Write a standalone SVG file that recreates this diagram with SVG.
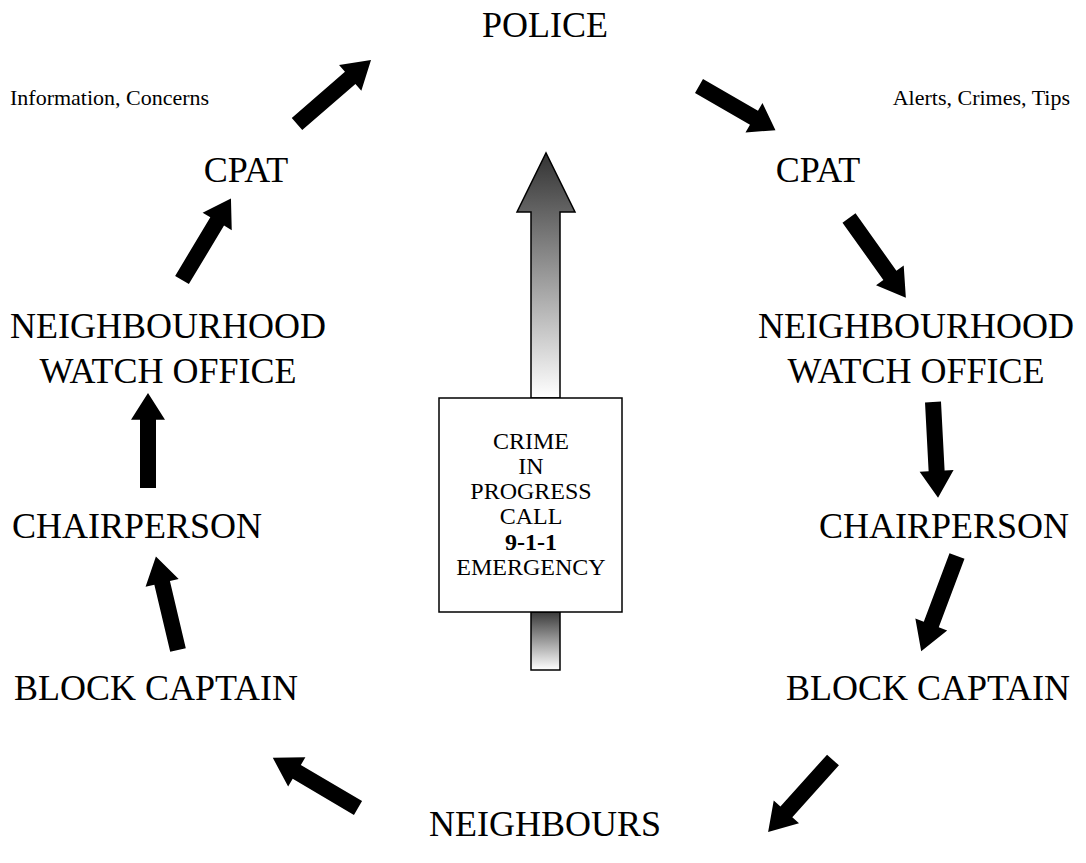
<svg xmlns="http://www.w3.org/2000/svg" xmlns:xlink="http://www.w3.org/1999/xlink" width="1086" height="863" viewBox="0 0 1086 863">
<style>
.lbl{font-family:"Liberation Serif","Times New Roman",serif;font-size:36px;fill:#000;text-anchor:middle}
.sm{font-family:"Liberation Serif","Times New Roman",serif;font-size:22px;fill:#000}
.bx{font-family:"Liberation Serif","Times New Roman",serif;font-size:24px;fill:#000;text-anchor:middle}
.arr{fill:#000}
</style>
<defs>
<path id="a" d="M0,-8 H69 V-17 L96,0 L69,17 V8 H0 Z"/>
<linearGradient id="g1" x1="0" y1="0" x2="0" y2="1">
<stop offset="0" stop-color="#333"/>
<stop offset="1" stop-color="#fff"/>
</linearGradient>
<linearGradient id="g2" x1="0" y1="0" x2="0" y2="1">
<stop offset="0" stop-color="#3a3a3a"/>
<stop offset="1" stop-color="#fff"/>
</linearGradient>
</defs>
<rect width="1086" height="863" fill="#fff"/>

<g id="police"><text class="lbl" x="545" y="37">POLICE</text></g>
<g id="info-label"><text class="sm" x="10" y="105">Information, Concerns</text></g>
<g id="alerts-label"><text class="sm" x="1070" y="105" text-anchor="end">Alerts, Crimes, Tips</text></g>
<g id="cpat-left"><text class="lbl" x="246" y="182">CPAT</text></g>
<g id="cpat-right"><text class="lbl" x="818" y="182">CPAT</text></g>
<g id="nwo-left"><text class="lbl" x="168" y="338">NEIGHBOURHOOD</text><text class="lbl" x="168" y="383">WATCH OFFICE</text></g>
<g id="nwo-right"><text class="lbl" x="916" y="338">NEIGHBOURHOOD</text><text class="lbl" x="916" y="383">WATCH OFFICE</text></g>
<g id="chair-left"><text class="lbl" x="137" y="538">CHAIRPERSON</text></g>
<g id="chair-right"><text class="lbl" x="944" y="538">CHAIRPERSON</text></g>
<g id="block-left"><text class="lbl" x="156" y="700">BLOCK CAPTAIN</text></g>
<g id="block-right"><text class="lbl" x="928" y="700">BLOCK CAPTAIN</text></g>
<g id="neighbours"><text class="lbl" x="545" y="836">NEIGHBOURS</text></g>

<g id="emergency">
<path d="M531,398 V212 H517 L546,153 L575,212 H560 V398 Z" fill="url(#g1)" stroke="#000" stroke-width="1.5"/>
<path d="M531,612 V670 H560 V612 Z" fill="url(#g2)" stroke="#000" stroke-width="1.5"/>
<rect x="439" y="398" width="183" height="214" fill="#fff" stroke="#000" stroke-width="1.5"/>
<text class="bx" x="531" y="449">CRIME</text>
<text class="bx" x="531" y="474">IN</text>
<text class="bx" x="531" y="499">PROGRESS</text>
<text class="bx" x="531" y="524">CALL</text>
<text class="bx" x="531" y="550" font-weight="bold" font-size="28">9-1-1</text>
<text class="bx" x="531" y="575">EMERGENCY</text>
</g>

<g id="connectors" class="arr">
<use xlink:href="#a" transform="translate(297,124) rotate(-40.9) scale(1.02,1)"/>
<use xlink:href="#a" transform="translate(699,86) rotate(30) scale(0.92,1)"/>
<use xlink:href="#a" transform="translate(182,280) rotate(-59) scale(0.99,1)"/>
<use xlink:href="#a" transform="translate(849,218) rotate(54.5) scale(1.02,1)"/>
<use xlink:href="#a" transform="translate(148,488) rotate(-90) scale(0.99,1)"/>
<use xlink:href="#a" transform="translate(933,402) rotate(87) scale(1,1)"/>
<use xlink:href="#a" transform="translate(178,650) rotate(-103.3) scale(1,1)"/>
<use xlink:href="#a" transform="translate(957,556) rotate(110.6) scale(1.06,1)"/>
<use xlink:href="#a" transform="translate(358,808) rotate(-149.5) scale(1.03,1)"/>
<use xlink:href="#a" transform="translate(833,760) rotate(132) scale(1.01,1)"/>
</g>
</svg>
